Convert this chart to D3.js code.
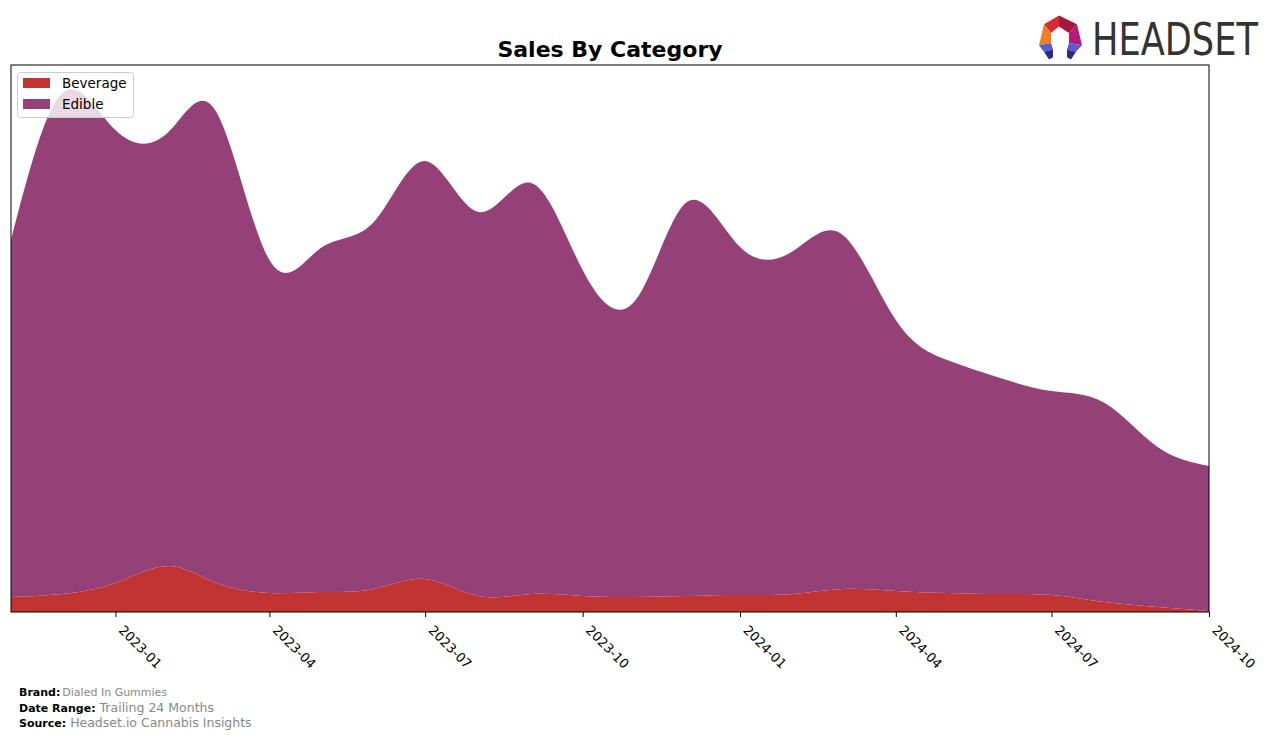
<!DOCTYPE html>
<html><head><meta charset="utf-8">
<script src="https://cdn.jsdelivr.net/npm/d3@7"></script>
<style>
body{margin:0;background:#fff;}
text{font-family:"DejaVu Sans",sans-serif;}
</style></head>
<body>
<svg id="chart" width="1276" height="739"></svg>
<script>
const months = ["2022-11","2022-12","2023-01","2023-02","2023-03","2023-04","2023-05","2023-06","2023-07","2023-08","2023-09","2023-10","2023-11","2023-12","2024-01","2024-02","2024-03","2024-04","2024-05","2024-06","2024-07","2024-08","2024-09","2024-10"];
const beverage = [1.5,1.8,2.9,4.6,2.9,1.9,2.0,2.3,3.3,1.6,1.8,1.6,1.5,1.6,1.7,1.8,2.3,2.1,1.9,1.8,1.7,1.0,0.5,0.1];
const edible = [35.7,50.1,45.3,43.4,47.1,33.3,34.4,36.7,41.8,38.4,41.1,32.6,29.7,39.4,34.8,34.3,35.4,27.1,23.3,21.6,20.4,19.9,16.0,14.5];
const seriesNames = ["Beverage","Edible"];
const colors = ["#c13432","#954177"];
const tickLabels = ["2023-01","2023-04","2023-07","2023-10","2024-01","2024-04","2024-07","2024-10"];

const svg = d3.select("#chart");
const L=11,R=1209,T=65,B=612;
const parse = d3.timeParse("%Y-%m");
const dates = months.map(parse);
const x = d3.scaleTime().domain([dates[0], dates[dates.length-1]]).range([L,R]);
const y = d3.scaleLinear().domain([0,54.7]).range([B,T]);

const rows = months.map((m,i)=>({date:dates[i], Beverage:beverage[i], Edible:edible[i]}));
const stack = d3.stack().keys(seriesNames)(rows);
const area = d3.area().curve(d3.curveNatural)
  .x(d=>x(d.data.date)).y0(d=>y(d[0])).y1(d=>y(d[1]));

const g = svg.append("g");
g.append("defs").append("clipPath").attr("id","clip").append("rect")
 .attr("x",L).attr("y",T).attr("width",R-L).attr("height",B-T);
g.selectAll("path.a").data(stack).join("path").attr("class","a")
 .attr("clip-path","url(#clip)")
 .attr("d",area).attr("fill",(d,i)=>colors[i]);

// frame
svg.append("rect").attr("x",L).attr("y",T).attr("width",R-L).attr("height",B-T)
 .attr("fill","none").attr("stroke","#000").attr("stroke-width",1);

// axis
const xAxis = d3.axisBottom(x).tickValues(tickLabels.map(parse)).tickFormat(d3.timeFormat("%Y-%m")).tickSize(5).tickPadding(4);
const ax = svg.append("g").attr("transform",`translate(0,${B})`).call(xAxis);
ax.select(".domain").remove();
ax.selectAll("text").attr("font-size",13).attr("fill","#000")
  .attr("text-anchor","start").attr("dy","0").attr("x",0).attr("y",0)
  .attr("transform","translate(2,19) rotate(45)");
ax.selectAll("line").attr("stroke","#000");

// title
svg.append("text").attr("x",610).attr("y",57).attr("text-anchor","middle")
 .attr("font-size",22).attr("font-weight","bold").text("Sales By Category");

// legend
const lg = svg.append("g");
lg.append("rect").attr("x",17.5).attr("y",72.5).attr("width",116).attr("height",45).attr("rx",3)
 .attr("fill","#fff").attr("fill-opacity",0.8).attr("stroke","#ccc");
seriesNames.forEach((s,i)=>{
  lg.append("rect").attr("x",23).attr("y",78+i*21).attr("width",27).attr("height",10).attr("fill",colors[i]);
  lg.append("text").attr("x",62).attr("y",88+i*21).attr("font-size",13.5).text(s);
});

// footer
const foot = [["Brand:","Dialed In Gummies",11],["Date Range:","Trailing 24 Months",12.5],["Source:","Headset.io Cannabis Insights",12.5]];
foot.forEach((f,i)=>{
  const t = svg.append("text").attr("x",19).attr("y",696+i*15.5).attr("font-size",11);
  t.append("tspan").attr("font-weight","bold").attr("fill","#000").text(f[0]);
  t.append("tspan").attr("fill","#888").attr("font-size",f[2]).attr("dx", i===0?2:4).text(f[1]);
});

// logo icon
const logo = svg.append("g").attr("transform","translate(1034,10) scale(1,1.1)");
const polys = [
  {p:[[25,5],[10,13],[17,21],[25,15]], c:"#d62b3b"},
  {p:[[25,5],[43,13],[35,21],[25,15]], c:"#a6173e"},
  {p:[[10,13],[5,32],[17,30],[17,21]], c:"#f07e22"},
  {p:[[43,13],[48,32],[35,30],[35,21]], c:"#b8177c"},
  {p:[[5,32],[17,30],[19,36],[10,38]], c:"#5a5ad8"},
  {p:[[10,38],[19,36],[19,43],[15,45]], c:"#2b2b85"},
  {p:[[48,32],[35,30],[33,36],[42,38]], c:"#5a5ad8"},
  {p:[[42,38],[33,36],[33,43],[37,45]], c:"#2b2b85"},
];
polys.forEach(o=>logo.append("polygon").attr("points",o.p.map(q=>q.join(",")).join(" ")).attr("fill",o.c));
const ht = svg.append("text").attr("x",1092).attr("y",55)
 .attr("font-family","'DejaVu Sans Condensed','DejaVu Sans',sans-serif")
 .attr("font-size",45).attr("fill","#333").text("HEADSET");
// shrink horizontally via transform so the text box itself stays within the page
const w = ht.node().getComputedTextLength();
const sx = 166 / w;
ht.attr("x",0).attr("y",0).attr("transform",`translate(1092,55) scale(${sx},1)`);
</script>
</body></html>
